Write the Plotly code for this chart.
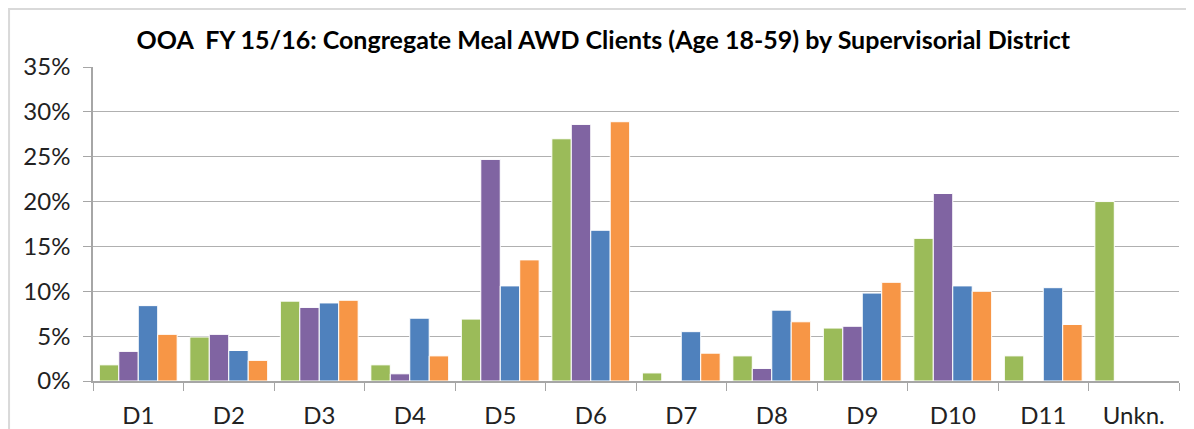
import plotly.graph_objects as go

categories = ["D1", "D2", "D3", "D4", "D5", "D6", "D7", "D8", "D9", "D10", "D11", "Unkn."]
series_green = [0.018, 0.049, 0.089, 0.018, 0.069, 0.270, 0.009, 0.028, 0.059, 0.159, 0.028, 0.200]
series_purple = [0.033, 0.052, 0.082, 0.008, 0.247, 0.286, 0.0, 0.014, 0.061, 0.209, 0.0, 0.0]
series_blue = [0.084, 0.034, 0.087, 0.070, 0.106, 0.168, 0.055, 0.079, 0.098, 0.106, 0.104, 0.0]
series_orange = [0.052, 0.023, 0.090, 0.028, 0.135, 0.289, 0.031, 0.066, 0.110, 0.100, 0.063, 0.0]
series_names = ["Series 1", "Series 2", "Series 3", "Series 4"]
colors = ["#9BBB59", "#8064A2", "#4F81BD", "#F79646"]
ytick_vals = [0, 0.05, 0.10, 0.15, 0.20, 0.25, 0.30, 0.35]
ytick_text = ["0%", "5%", "10%", "15%", "20%", "25%", "30%", "35%"]

fig = go.Figure()
for name, vals, col in zip(series_names, [series_green, series_purple, series_blue, series_orange], colors):
    fig.add_trace(go.Bar(x=categories, y=vals, name=name, marker=dict(color=col, line=dict(color="white", width=1))))

font_family = "Lato, Carlito, Calibri, sans-serif"
fig.update_layout(
    width=1186, height=421,
    margin=dict(l=85, r=15, t=59, b=48, autoexpand=False),
    paper_bgcolor="white", plot_bgcolor="white",
    barmode="group", bargap=0.14, bargroupgap=0,
    showlegend=False,
    title=dict(text="<b>OOA  FY 15/16: Congregate Meal AWD Clients (Age 18-59) by Supervisorial District</b>",
               x=0.502, xref="container", xanchor="center", y=0.924, yref="container", yanchor="middle",
               font=dict(family=font_family, size=25, color="black")),
    font=dict(family=font_family, size=24, color="#222"),
)
fig.update_xaxes(type="category", tickson="boundaries", ticks="outside", ticklen=8, tickcolor="#a6a6a6",
                 showline=True, linecolor="#a6a6a6", linewidth=1.5, showgrid=False, automargin=False,
                 tickfont=dict(family=font_family, size=24, color="#222"), ticklabelstandoff=12)
fig.update_yaxes(range=[0, 0.35], tickvals=ytick_vals, ticktext=ytick_text, ticks="outside", ticklen=8,
                 tickcolor="#a6a6a6", showline=True, linecolor="#a6a6a6", linewidth=1.5, automargin=False,
                 showgrid=True, gridcolor="#b0b0b0", gridwidth=1.2, zeroline=False,
                 tickfont=dict(family=font_family, size=24, color="#222"), ticklabelstandoff=8)
fig.add_shape(type="rect", xref="paper", yref="paper", x0=-0.0773, x1=1.03, y0=-0.3, y1=1.185,
              line=dict(color="#d9d9d9", width=2), fillcolor="rgba(0,0,0,0)", layer="below")
fig.write_html("out.html")
